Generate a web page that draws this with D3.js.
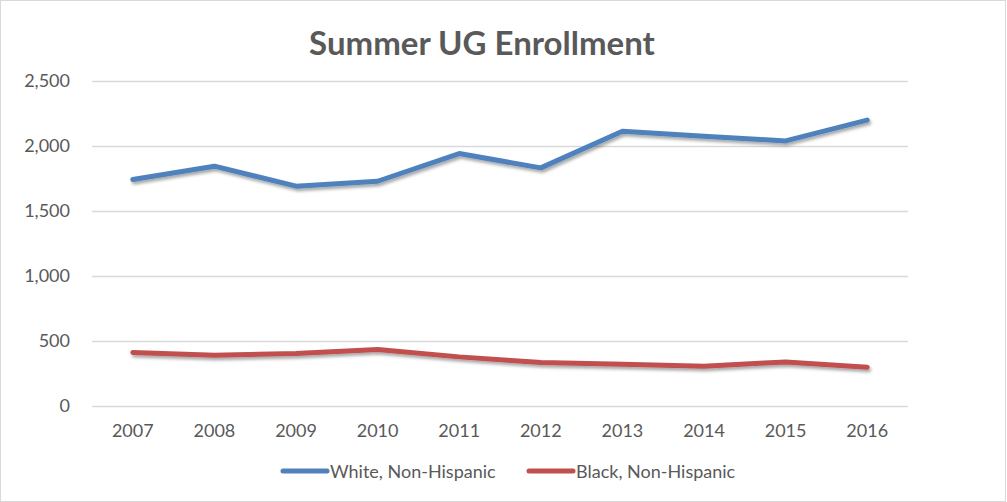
<!DOCTYPE html>
<html>
<head>
<meta charset="utf-8">
<script src="https://cdn.jsdelivr.net/npm/d3@7"></script>
<style>
  body { margin: 0; background: #fff; }
  svg { display: block; font-family: Lato, "Open Sans", sans-serif; }
</style>
</head>
<body>
<svg id="chart" width="1007" height="502"></svg>
<script>
const years = ['2007', '2008', '2009', '2010', '2011', '2012', '2013', '2014', '2015', '2016'];
const whiteNonHispanic = [1738, 1841, 1687, 1725, 1938, 1828, 2110, 2072, 2035, 2195];
const blackNonHispanic = [408, 387, 400, 431, 374, 331, 318, 302, 335, 295];
const yTicks = [0, 500, 1000, 1500, 2000, 2500];

const series = [
  { name: 'White, Non-Hispanic', values: whiteNonHispanic, color: '#4f81bd' },
  { name: 'Black, Non-Hispanic', values: blackNonHispanic, color: '#c0504d' },
];

const svg = d3.select('#chart');
const plotLeft = 92, plotRight = 908, plotTop = 80.5, plotBottom = 405.5;

// outer frame
svg.append('rect')
  .attr('x', 0.5).attr('y', 0.5)
  .attr('width', 1005).attr('height', 501)
  .attr('fill', '#fff').attr('stroke', '#d9d9d9');

const defs = svg.append('defs');
const shadow = defs.append('filter').attr('id', 'shadow')
  .attr('x', '-5%').attr('y', '-50%').attr('width', '110%').attr('height', '200%');
shadow.append('feDropShadow')
  .attr('dx', 1.5).attr('dy', 2.5).attr('stdDeviation', 1.5)
  .attr('flood-color', '#000').attr('flood-opacity', 0.35);

const x = d3.scaleBand().domain(years).range([plotLeft, plotRight]);
const y = d3.scaleLinear().domain([0, 2500]).range([plotBottom, plotTop]);

svg.append('text')
  .attr('x', 482).attr('y', 55)
  .attr('text-anchor', 'middle')
  .attr('font-size', 33).attr('font-weight', 'bold')
  .attr('fill', '#595959')
  .text('Summer UG Enrollment');

// gridlines
svg.append('g')
  .selectAll('line')
  .data(yTicks)
  .join('line')
  .attr('x1', plotLeft).attr('x2', plotRight)
  .attr('y1', d => Math.round(y(d)) + 0.5)
  .attr('y2', d => Math.round(y(d)) + 0.5)
  .attr('stroke', '#d9d9d9').attr('stroke-width', 1.3);

const yAxis = svg.append('g')
  .attr('transform', `translate(${plotLeft - 19},0)`)
  .call(d3.axisLeft(y).tickValues(yTicks).tickSize(0).tickFormat(d3.format(',')));
yAxis.select('.domain').remove();
yAxis.selectAll('text')
  .attr('font-size', 18).attr('fill', '#595959')
  .style('font-family', 'Lato, "Open Sans", sans-serif');

const xAxis = svg.append('g')
  .attr('transform', `translate(0,${plotBottom + 16})`)
  .call(d3.axisBottom(x).tickSize(0));
xAxis.select('.domain').remove();
xAxis.selectAll('text')
  .attr('font-size', 18).attr('fill', '#595959')
  .style('font-family', 'Lato, "Open Sans", sans-serif');

const line = d3.line()
  .x((d, i) => x(years[i]) + x.bandwidth() / 2)
  .y(d => y(d));

svg.append('g')
  .selectAll('path')
  .data(series)
  .join('path')
  .attr('d', d => line(d.values))
  .attr('fill', 'none')
  .attr('stroke', d => d.color)
  .attr('stroke-width', 5)
  .attr('stroke-linecap', 'round')
  .attr('stroke-linejoin', 'round')
  .attr('filter', 'url(#shadow)');

// legend
const legendX = [283, 529];
const legend = svg.append('g')
  .selectAll('g')
  .data(series)
  .join('g')
  .attr('transform', (d, i) => `translate(${legendX[i]},471)`);
legend.append('line')
  .attr('x1', 0).attr('x2', 44)
  .attr('stroke', d => d.color)
  .attr('stroke-width', 5)
  .attr('stroke-linecap', 'round');
legend.append('text')
  .attr('x', 47).attr('y', 6.5)
  .attr('font-size', 18).attr('fill', '#595959')
  .text(d => d.name);
</script>
</body>
</html>
